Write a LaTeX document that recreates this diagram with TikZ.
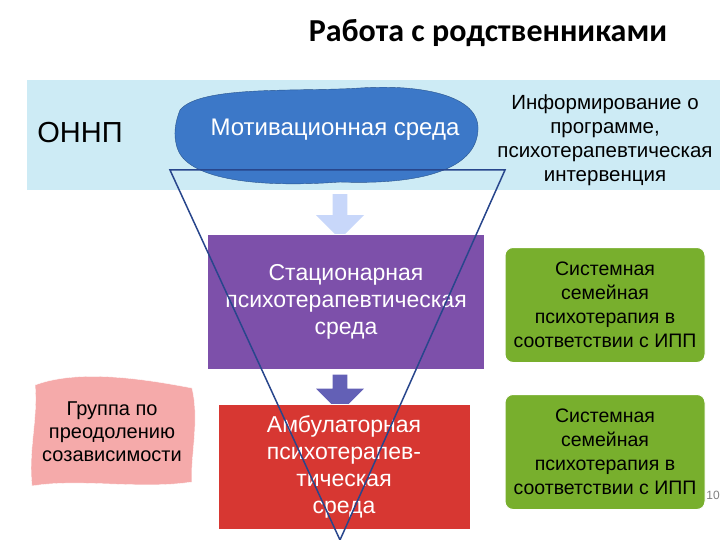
\documentclass[tikz,border=0pt]{standalone}
\usepackage{fontspec}
\setmainfont{Liberation Sans}
\newfontfamily\titlefont{Carlito}
\usetikzlibrary{positioning,shapes.arrows}
\definecolor{bandblue}{RGB}{205,235,245}
\definecolor{blobblue}{RGB}{60,120,200}
\definecolor{stagepurple}{RGB}{125,80,170}
\definecolor{stagered}{RGB}{215,55,50}
\definecolor{boxgreen}{RGB}{120,175,45}
\definecolor{blobpink}{RGB}{245,170,170}
\definecolor{triblue}{RGB}{40,70,140}
\tikzset{
  stage/.style={draw=white,line width=1pt,text=white,align=center,font=\fontsize{23}{27}\selectfont},
  note/.style={draw=white,line width=1pt,rounded corners=8pt,fill=boxgreen,minimum width=200pt,
    minimum height=115pt,align=center,text=black,font=\fontsize{19.5}{24}\selectfont},
  downarrow/.style={single arrow,shape border rotate=270,minimum height=45pt,minimum width=48pt,
    single arrow head extend=8pt,draw=none}
}
\begin{document}
\begin{tikzpicture}[x=1pt,y=-1pt]
    \useasboundingbox (0,0) rectangle (720,540);

    % Titre
    \node[font=\titlefont\bfseries\fontsize{32}{36}\selectfont] (title) at (488,33) {Работа с родственниками};

    % Bande du haut
    \fill[bandblue] (27,80) rectangle (720,190);
    \node[font=\fontsize{29}{32}\selectfont] (onnp) at (80,133) {ОННП};
    \fill[blobblue,draw=blobblue!70!black] (180,110) .. controls (200,85) and (300,92) .. (360,88)
      .. controls (420,84) and (480,95) .. (478,130) .. controls (476,170) and (420,185) .. (340,182)
      .. controls (260,188) and (190,180) .. (178,150) .. controls (172,135) and (176,120) .. (180,110) -- cycle;
    \node[text=white,font=\fontsize{24}{27}\selectfont] (motiv) at (335,130) {Мотивационная среда};
    \node[align=center,font=\fontsize{20.5}{24}\selectfont] (inform) at (605,140)
      {Информирование о\\программе,\\психотерапевтическая\\интервенция};

    % Flèches entre les niveaux
    \node[downarrow,fill=bandblue!80!blue!60] (arr1) at (340,213) {};
    \node[downarrow,fill=stagepurple!60!blobblue,minimum height=38pt] (arr2) at (340,390) {};

    % Niveaux
    \node[stage,fill=stagepurple,minimum width=277pt,minimum height=135pt] (stat) at (346,302)
      {Стационарная\\психотерапевтическая\\среда};
    \node[stage,fill=stagered,minimum width=252pt,minimum height=125pt] (amb) at (344,467)
      {Амбулаторная\\психотерапев-\\тическая\\среда};

    % Encadrés verts
    \node[note] (fam1) at (605,305) {Системная\\семейная\\психотерапия в\\соответствии с ИПП};
    \node[note] (fam2) at (605,452) {Системная\\семейная\\психотерапия в\\соответствии с ИПП};

    % Groupe (rose)
    \fill[blobpink,draw=white] (35,385) .. controls (80,368) and (150,380) .. (192,388)
      .. controls (200,420) and (190,460) .. (192,482) .. controls (140,490) and (80,478) .. (32,486)
      .. controls (28,450) and (38,420) .. (35,385) -- cycle;
    \node[align=center,font=\fontsize{20}{23}\selectfont] (group) at (112,432)
      {Группа по\\преодолению\\созависимости};

    % Triangle
    \coordinate (tl) at (170,170);
    \coordinate (tr) at (505,170);
    \coordinate (tb) at (340,540);
    \draw[triblue,line width=1.5pt] (tl) -- (tr) -- (tb) -- cycle;

    \node[gray,font=\fontsize{12}{14}\selectfont] (page) at (713,495) {10};
\end{tikzpicture}
\end{document}
